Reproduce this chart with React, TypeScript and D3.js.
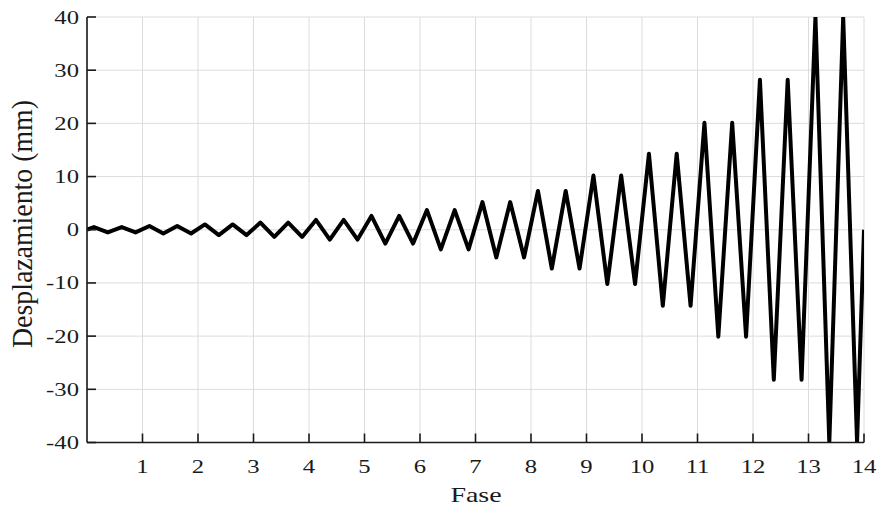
import React from "react";
import * as d3 from "d3";

// Phase indices and peak amplitude (mm) of each phase (two cycles per phase)
const phases = [0, 1, 2, 3, 4, 5, 6, 7, 8, 9, 10, 11, 12, 13];
const amplitudes = [0.5, 0.7, 1.0, 1.35, 1.85, 2.6, 3.7, 5.2, 7.3, 10.2, 14.3, 20.1, 28.2, 40];
// Position of extrema inside each phase and their sign
const cycleOffsets = [0.125, 0.375, 0.625, 0.875];
const cycleSigns = [1, -1, 1, -1];

const xTicks = [1, 2, 3, 4, 5, 6, 7, 8, 9, 10, 11, 12, 13, 14];
const xGrid = [0, 1, 2, 3, 4, 5, 6, 7, 8, 9, 10, 11, 12, 13, 14];
const yTicks = [-40, -30, -20, -10, 0, 10, 20, 30, 40];

const xLabel = "Fase";
const yLabel = "Desplazamiento (mm)";

const W = 878;
const H = 509;
const L = 87;
const R = 864;
const T = 17;
const B = 442.5;

const FONT = "'Liberation Serif', 'Times New Roman', serif";
const SX = 1.3;

export default function App() {
  const x = d3.scaleLinear().domain([0, 14]).range([L, R]);
  const y = d3.scaleLinear().domain([-40, 40]).range([B, T]);

  const pts: [number, number][] = [[0, 0]];
  phases.forEach((p, i) => {
    cycleOffsets.forEach((o, k) => {
      pts.push([p + o, cycleSigns[k] * amplitudes[i]]);
    });
  });
  pts.push([14, 0]);

  const line = d3
    .line<[number, number]>()
    .x((d) => x(d[0]))
    .y((d) => y(d[1]));

  return (
    <svg
      width={W}
      height={H}
      style={{ position: "absolute", left: 0, top: 0, background: "#fff" }}
    >
      <defs>
        <clipPath id="plotclip">
          <rect x={L} y={T} width={R - L} height={B - T} />
        </clipPath>
      </defs>
      {/* grid */}
      <g stroke="#dcdcdc" strokeWidth={1}>
        {xGrid.map((v) => (
          <line key={"gx" + v} x1={x(v)} x2={x(v)} y1={T} y2={B} />
        ))}
        {yTicks.map((v) => (
          <line key={"gy" + v} x1={L} x2={R} y1={y(v)} y2={y(v)} />
        ))}
      </g>
      {/* data */}
      <path
        d={line(pts) || ""}
        fill="none"
        stroke="#000"
        strokeWidth={4}
        strokeLinejoin="round"
        clipPath="url(#plotclip)"
      />
      {/* axes */}
      <g stroke="#1a1a1a" strokeWidth={1.6} fill="none">
        <line x1={L} x2={L} y1={T} y2={B} />
        <line x1={L} x2={R} y1={B} y2={B} />
        {yTicks.map((v) => (
          <line key={"ty" + v} x1={L} x2={L + 9} y1={y(v)} y2={y(v)} />
        ))}
        {xTicks.map((v) => (
          <line key={"tx" + v} x1={x(v)} x2={x(v)} y1={B} y2={B - 9} />
        ))}
      </g>
      {/* tick labels */}
      <g fontFamily={FONT} fontSize={19} fill="#1a1a1a">
        {yTicks.map((v) => (
          <text
            key={"ly" + v}
            transform={`translate(${L - 8},${y(v) + 6.5}) scale(${SX},1)`}
            textAnchor="end"
          >
            {String(v)}
          </text>
        ))}
        {xTicks.map((v) => (
          <text
            key={"lx" + v}
            transform={`translate(${x(v)},${B + 30.5}) scale(${SX},1)`}
            textAnchor="middle"
          >
            {String(v)}
          </text>
        ))}
      </g>
      {/* axis labels */}
      <text
        fontFamily={FONT}
        fontSize={21.5}
        fill="#1a1a1a"
        textAnchor="middle"
        transform={`translate(${(L + R) / 2 + 0.5},502) scale(${SX},1)`}
      >
        {xLabel}
      </text>
      <text
        fontFamily={FONT}
        fontSize={23}
        fill="#1a1a1a"
        textAnchor="middle"
        transform={`translate(31.5,224) rotate(-90) scale(1.21,${SX})`}
      >
        {yLabel}
      </text>
    </svg>
  );
}
